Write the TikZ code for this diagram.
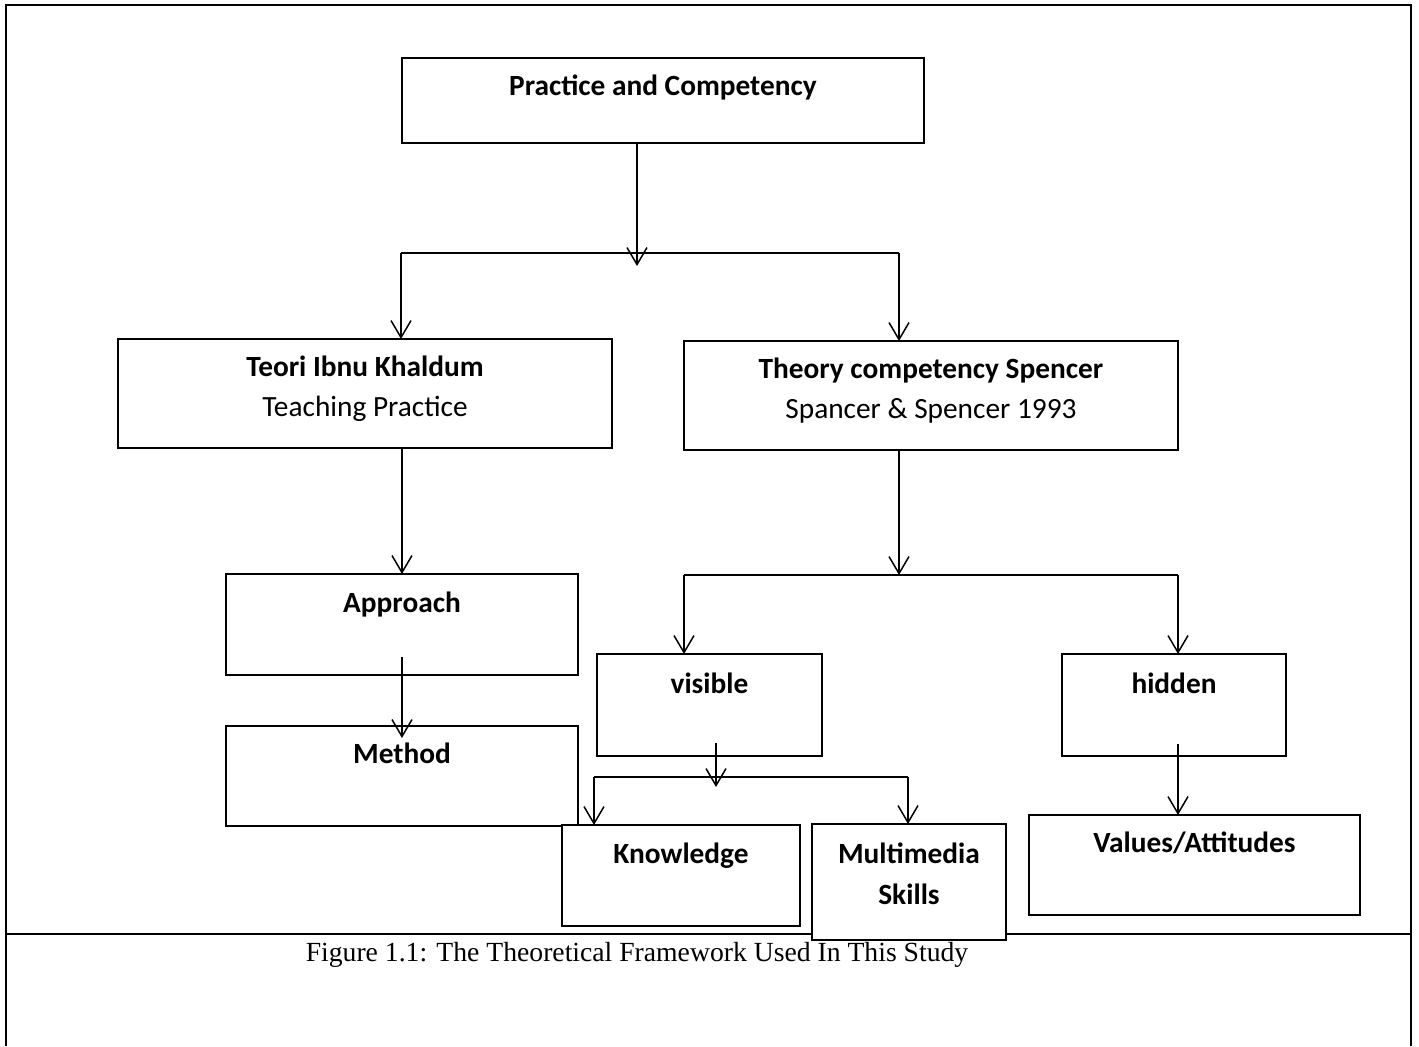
\documentclass[tikz,border=0pt]{standalone}
\usepackage{fontspec}
\setmainfont{Carlito}
\newfontfamily\captionfont{Liberation Serif}
\usepackage{tikz}
\usetikzlibrary{arrows.meta}

\begin{document}
\begin{tikzpicture}[x=0.02cm, y=-0.02cm,
		box_style/.style={draw=black, fill=white, line width=1.1pt, anchor=north west, inner sep=0pt, outer sep=0pt, align=center, font=\fontsize{16.7}{23.3}\selectfont},
		edge_style/.style={draw=black, line width=0.85pt},
		arrow_style/.style={edge_style, -{Straight Barb[length=3.4mm, width=4mm]}},
		frame_style/.style={draw=black, line width=1.4pt}]

	\useasboundingbox (0,0) rectangle (1419,1046);

	% frame round the figure and its caption row
	\draw[frame_style] (6,1046) |- (1411,5) -- (1411,1046);
	\draw[frame_style] (6,934) -- (1411,934);

	\node[box_style, minimum width=10.44cm, text height=0.74cm, text depth=0.96cm] (pc) at (402,58) {\textbf{Practice and Competency}};
	\node[box_style, minimum width=9.88cm, text height=1.56cm, text depth=0.62cm] (ibnu) at (118,339) {\textbf{Teori Ibnu Khaldum}\\Teaching Practice};
	\node[box_style, minimum width=9.88cm, text height=1.56cm, text depth=0.62cm] (spen) at (684,341) {\textbf{Theory competency Spencer}\\Spancer \& Spencer 1993};
	\node[box_style, minimum width=7.04cm, text height=0.76cm, text depth=1.26cm] (appr) at (226,574) {\textbf{Approach}};
	\node[box_style, minimum width=7.04cm, text height=0.74cm, text depth=1.26cm] (meth) at (226,726) {\textbf{Method}};
	\node[box_style, minimum width=4.5cm, text height=0.78cm, text depth=1.26cm] (vis) at (597,654) {\textbf{visible}};
	\node[box_style, minimum width=4.48cm, text height=0.78cm, text depth=1.26cm] (hid) at (1062,654) {\textbf{hidden}};
	\node[box_style, minimum width=4.76cm, text height=0.76cm, text depth=1.26cm] (know) at (562,825) {\textbf{Knowledge}};
	\node[box_style, minimum width=3.88cm, text height=1.60cm, text depth=0.72cm] (mult) at (812,824) {\textbf{Multimedia}\\\textbf{Skills}};
	\node[box_style, minimum width=6.62cm, text height=0.74cm, text depth=1.26cm] (val) at (1029,815) {\textbf{Values/Attitudes}};

	\node[font=\captionfont\fontsize{15.75}{18}\selectfont] (cap) at (637,955) {Figure 1.1: The Theoretical Framework Used In This Study};

	% junctions and bus ends
	\coordinate (j1) at (637,266);
	\coordinate (b1l) at (401,253);
	\coordinate (b1r) at (899,253);
	\coordinate (j2) at (899,575);
	\coordinate (b2l) at (684,575);
	\coordinate (b2r) at (1178,575);
	\coordinate (j3) at (716,787);
	\coordinate (b3l) at (594,777);
	\coordinate (b3r) at (908,777);

	\draw[arrow_style] (pc.south -| j1) -- (j1);
	\draw[edge_style] (b1l) -- (b1r);
	\draw[arrow_style] (b1l) -- (b1l |- ibnu.north);
	\draw[arrow_style] (b1r) -- (b1r |- spen.north);

	\draw[arrow_style] (appr.north |- ibnu.south) -- (appr.north);
	\draw[arrow_style] ([yshift=0.36cm]appr.south) -- ([yshift=-0.24cm]meth.north);

	\draw[arrow_style] (spen.south -| j2) -- (j2);
	\draw[edge_style] (b2l) -- (b2r);
	\draw[arrow_style] (b2l) -- (b2l |- vis.north);
	\draw[arrow_style] (b2r) -- (b2r |- hid.north);

	\draw[arrow_style] ([yshift=0.26cm]vis.south -| j3) -- (j3);
	\draw[edge_style] (b3l) -- (b3r);
	\draw[arrow_style] (b3l) -- (b3l |- know.north);
	\draw[arrow_style] (b3r) -- (b3r |- mult.north);

	\draw[arrow_style] ([yshift=0.24cm]hid.south -| b2r) -- (b2r |- val.north);
\end{tikzpicture}
\end{document}
